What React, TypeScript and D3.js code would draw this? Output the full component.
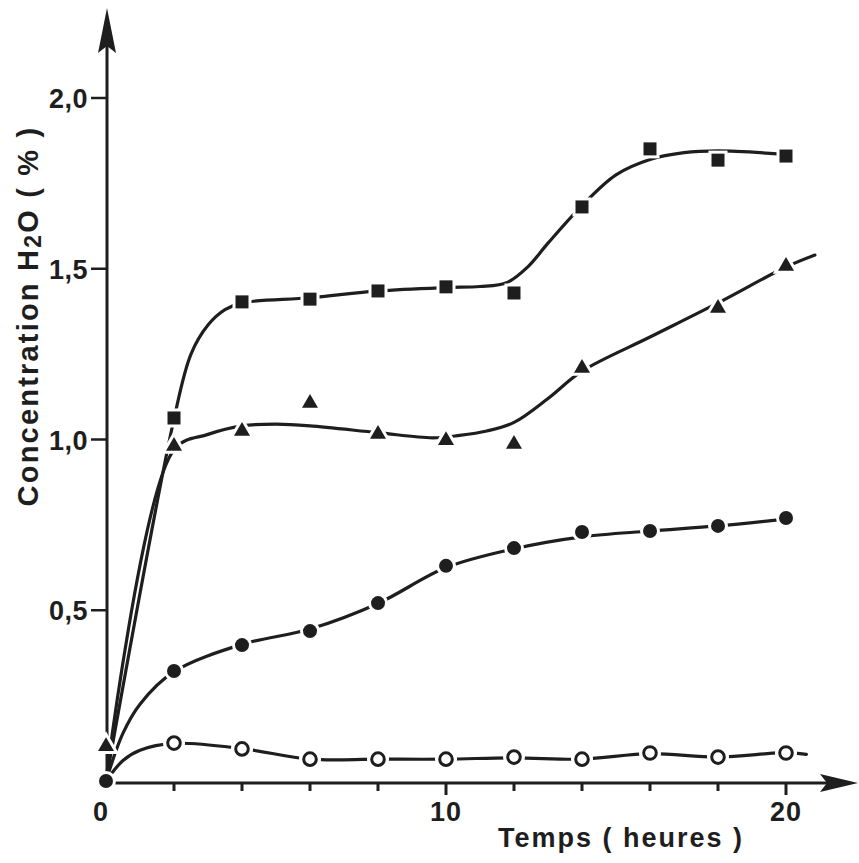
import React from "react";
import * as d3 from "d3";

// ---- data ----
const times = [2, 4, 6, 8, 10, 12, 14, 16, 18, 20];
const squareValues = [1.063, 1.403, 1.411, 1.435, 1.447, 1.429, 1.681, 1.851, 1.818, 1.83];
const triangleTimes = [0, 2, 4, 6, 8, 10, 12, 14, 18, 20];
const triangleValues = [0.105, 0.984, 1.028, 1.11, 1.019, 1.001, 0.99, 1.212, 1.388, 1.511];
const dotTimes = [0, 2, 4, 6, 8, 10, 12, 14, 16, 18, 20];
const dotValues = [0, 0.322, 0.398, 0.439, 0.521, 0.63, 0.682, 0.729, 0.732, 0.747, 0.77];
const openValues = [0.111, 0.094, 0.064, 0.064, 0.064, 0.07, 0.064, 0.082, 0.07, 0.082];

// hand-drawn fitted curves (nodes)
const squareCurve: [number, number][] = [
  [0, 0], [2, 1.06], [2.5, 1.25], [3, 1.335], [3.5, 1.38], [4, 1.4], [6, 1.415], [8, 1.435],
  [10, 1.445], [11, 1.448], [11.8, 1.46], [12.4, 1.505], [13, 1.575], [14, 1.685], [15, 1.775],
  [16, 1.82], [17, 1.84], [18, 1.845], [20, 1.835],
];
const triangleCurve: [number, number][] = [
  [0, 0], [2, 0.97], [3, 1.015], [4, 1.04], [5, 1.045], [6, 1.04], [8, 1.02], [9.6, 1.005],
  [10.4, 1.012], [11.2, 1.025], [12, 1.05], [13, 1.12], [14, 1.2], [16, 1.3], [18, 1.4],
  [20, 1.505], [20.85, 1.54],
];
const dotCurve: [number, number][] = [
  [0, 0], [0.5, 0.14], [1, 0.225], [2, 0.32], [4, 0.4], [6, 0.445], [8, 0.52], [10, 0.625],
  [12, 0.68], [14, 0.715], [16, 0.732], [18, 0.747], [20, 0.767],
];
const openCurve: [number, number][] = [
  [0, 0], [0.5, 0.06], [1, 0.09], [2, 0.11], [4, 0.095], [6, 0.064], [8, 0.064], [10, 0.064],
  [12, 0.068], [14, 0.064], [16, 0.08], [18, 0.07], [20, 0.083], [20.6, 0.078],
];

const yTicks = [0.5, 1.0, 1.5, 2.0];
const yTickLabels = ["0,5", "1,0", "1,5", "2,0"];
const xMajorTicks = [0, 10, 20];
const xMinorTicks = [2, 4, 6, 8, 12, 14, 16, 18];

const INK = "#1e1e1e";
const FONT = "'Liberation Sans', Arial, Helvetica, sans-serif";

export default function App() {
  const W = 859, H = 863;
  const x = d3.scaleLinear().domain([0, 20]).range([106, 786]);
  const y = d3.scaleLinear().domain([0, 2]).range([781, 98]);
  const line = d3
    .line<[number, number]>()
    .x((d) => x(d[0]))
    .y((d) => y(d[1]))
    .curve(d3.curveCatmullRom.alpha(0.5));

  const axisX = 107;
  const axisY = 783;
  const halo = { stroke: "#fff", strokeWidth: 6, paintOrder: "stroke" as const };

  return (
    <svg
      width={W}
      height={H}
      viewBox={`0 0 ${W} ${H}`}
      style={{ position: "absolute", left: 0, top: 0, background: "#fff" }}
    >
      <rect width={W} height={H} fill="#fff" />

      {/* curves */}
      {[squareCurve, triangleCurve, dotCurve, openCurve].map((c, i) => (
        <path key={i} d={line(c) || ""} fill="none" stroke={INK} strokeWidth={3.2} strokeLinecap="round" />
      ))}

      {/* axes */}
      <line x1={axisX} y1={axisY} x2={axisX} y2={40} stroke={INK} strokeWidth={3} />
      <line x1={axisX} y1={axisY} x2={832} y2={axisY} stroke={INK} strokeWidth={3} />
      <path d={`M${axisX},8 L${axisX + 9},53 L${axisX},46 L${axisX - 9},53 Z`} fill={INK} />
      <path d={`M858,${axisY} L820,${axisY - 9} L827,${axisY} L820,${axisY + 9} Z`} fill={INK} />

      {/* y ticks */}
      {yTicks.map((t, i) => (
        <g key={t}>
          <line x1={axisX - 16} x2={axisX} y1={y(t)} y2={y(t)} stroke={INK} strokeWidth={2.5} />
          <text
            x={88}
            y={y(t) + 10}
            textAnchor="end"
            fontFamily={FONT}
            fontWeight="bold"
            fontSize={27}
            letterSpacing={0.5}
            fill={INK}
          >
            {yTickLabels[i]}
          </text>
        </g>
      ))}

      {/* x ticks */}
      {xMinorTicks.map((t) => (
        <line key={t} x1={x(t)} x2={x(t)} y1={axisY} y2={axisY + 8} stroke={INK} strokeWidth={3} />
      ))}
      {xMajorTicks.filter((t) => t > 0).map((t) => (
        <line key={t} x1={x(t)} x2={x(t)} y1={axisY} y2={axisY + 12} stroke={INK} strokeWidth={3} />
      ))}
      {xMajorTicks.map((t) => (
        <text
          key={t}
          x={t === 0 ? 101 : x(t)}
          y={821}
          textAnchor="middle"
          fontFamily={FONT}
          fontWeight="bold"
          fontSize={27}
          letterSpacing={1}
          fill={INK}
        >
          {t}
        </text>
      ))}

      {/* axis titles */}
      <text
        x={621}
        y={847}
        textAnchor="middle"
        fontFamily={FONT}
        fontWeight="bold"
        fontSize={27}
        letterSpacing={2}
        fill={INK}
      >
        Temps ( heures )
      </text>
      <text
        transform="translate(38,316) rotate(-90)"
        textAnchor="middle"
        fontFamily={FONT}
        fontWeight="bold"
        fontSize={29}
        letterSpacing={2.2}
        fill={INK}
      >
        Concentration H<tspan fontSize={23} dy={3}>2</tspan>
        <tspan dy={-3}>O ( % )</tspan>
      </text>

      {/* markers: open circles */}
      {times.map((t, i) => (
        <g key={"o" + t}>
          <circle cx={x(t)} cy={y(openValues[i])} r={11} fill="#fff" />
          <circle cx={x(t)} cy={y(openValues[i])} r={6.3} fill="#fff" stroke={INK} strokeWidth={3} />
        </g>
      ))}
      {/* filled circles */}
      {dotTimes.map((t, i) => (
        <circle key={"d" + t} cx={x(t)} cy={y(dotValues[i])} r={7} fill={INK} {...halo} />
      ))}
      {/* triangles */}
      {triangleTimes.map((t, i) => {
        const cx = x(t);
        const cy = y(triangleValues[i]);
        const s = 8;
        return (
          <path
            key={"t" + t}
            d={`M${cx},${cy - s} L${cx + s},${cy + s * 0.72} L${cx - s},${cy + s * 0.72} Z`}
            fill={INK}
            {...halo}
          />
        );
      })}
      {/* squares */}
      {times.map((t, i) => (
        <rect
          key={"s" + t}
          x={x(t) - 6.5}
          y={y(squareValues[i]) - 6.5}
          width={13}
          height={13}
          fill={INK}
          {...halo}
        />
      ))}
    </svg>
  );
}
